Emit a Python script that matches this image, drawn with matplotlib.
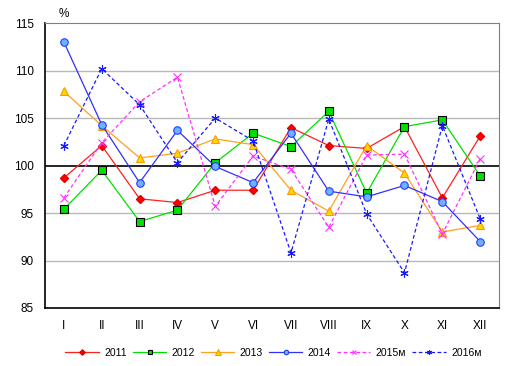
import matplotlib
matplotlib.use("Agg")
import matplotlib.pyplot as plt

plt.rcParams['font.family'] = ['Liberation Sans', 'DejaVu Sans']

months = ["I", "II", "III", "IV", "V", "VI", "VII", "VIII", "IX", "X", "XI", "XII"]
y2011 = [98.7, 102.1, 96.5, 96.1, 97.4, 97.4, 104.0, 102.1, 101.8, 104.1, 96.6, 103.1]
y2012 = [95.4, 99.5, 94.1, 95.3, 100.3, 103.4, 102.0, 105.7, 97.1, 104.1, 104.8, 98.9]
y2013 = [107.8, 104.2, 100.8, 101.3, 102.8, 102.2, 97.4, 95.2, 102.1, 99.2, 93.0, 93.7]
y2014 = [113.0, 104.3, 98.2, 103.7, 99.9, 98.2, 103.4, 97.3, 96.7, 97.9, 96.2, 92.0]
y2015 = [96.6, 102.4, 106.7, 109.3, 95.7, 101.0, 99.6, 93.5, 101.1, 101.2, 92.8, 100.7]
y2016 = [102.1, 110.2, 106.4, 100.3, 105.0, 102.6, 90.8, 104.9, 94.9, 88.7, 104.2, 94.4]
labels = ["2011", "2012", "2013", "2014", "2015м", "2016м"]
yticks = [85, 90, 95, 100, 105, 110, 115]

fig = plt.figure(figsize=(5.14, 3.66), dpi=100)
ax = fig.add_axes([0.0875, 0.1585, 0.8835, 0.7785])
x = list(range(1, 13))

for yv in [90, 95, 105, 110]:
    ax.axhline(yv, color='#b8b8b8', lw=1.0, zorder=0)
ax.axhline(100, color='black', lw=1.2, zorder=1)

ax.plot(x, y2011, color='#ff2020', lw=0.9, marker='D', ms=4.5, mfc='#ff0000', mec='#e00000', label=labels[0], zorder=3)
ax.plot(x, y2012, color='#00e000', lw=0.9, marker='s', ms=5.2, mfc='#00e000', mec='#000000', mew=0.8, label=labels[1], zorder=3)
ax.plot(x, y2013, color='#ffa020', lw=0.9, marker='^', ms=6.2, mfc='#ffd700', mec='#ff9900', mew=0.8, label=labels[2], zorder=3)
ax.plot(x, y2014, color='#3030ff', lw=0.9, marker='o', ms=5.4, mfc='#70b0ff', mec='#2040ff', mew=0.8, label=labels[3], zorder=3)
ax.plot(x, y2015, color='#ff30ff', lw=0.9, ls=(0, (3, 2)), marker='x', ms=5.5, mec='#ff30ff', mew=0.8, label=labels[4], zorder=3)
ax.plot(x, y2016, color='#1a1aff', lw=0.9, ls=(0, (3, 2)), marker=(6, 2, 0), ms=6, mec='#1a1aff', mew=0.8, label=labels[5], zorder=3)

ax.set_xlim(0.5, 12.5)
ax.set_ylim(85, 115)
ax.set_xticks(x)
ax.set_xticklabels(months)
ax.set_yticks(yticks)
ax.tick_params(axis='both', length=0, labelsize=8.5)
ax.tick_params(axis='y', pad=8)
ax.tick_params(axis='x', pad=9)
ax.spines['left'].set_color('black')
ax.spines['bottom'].set_color('black')
ax.spines['left'].set_linewidth(1.2)
ax.spines['bottom'].set_linewidth(1.2)
ax.spines['top'].set_color('#808080')
ax.spines['right'].set_color('#808080')

fig.text(64/514, 1-14/366, '%', fontsize=8.5, ha='center', va='center')

leg = fig.legend(loc='center', bbox_to_anchor=(0.532, 1-353/366), ncol=6, frameon=False,
                 fontsize=7.5, handlelength=3.2, handletextpad=0.5, columnspacing=0.6, markerscale=0.6)

fig.savefig('out.png', dpi=100)
